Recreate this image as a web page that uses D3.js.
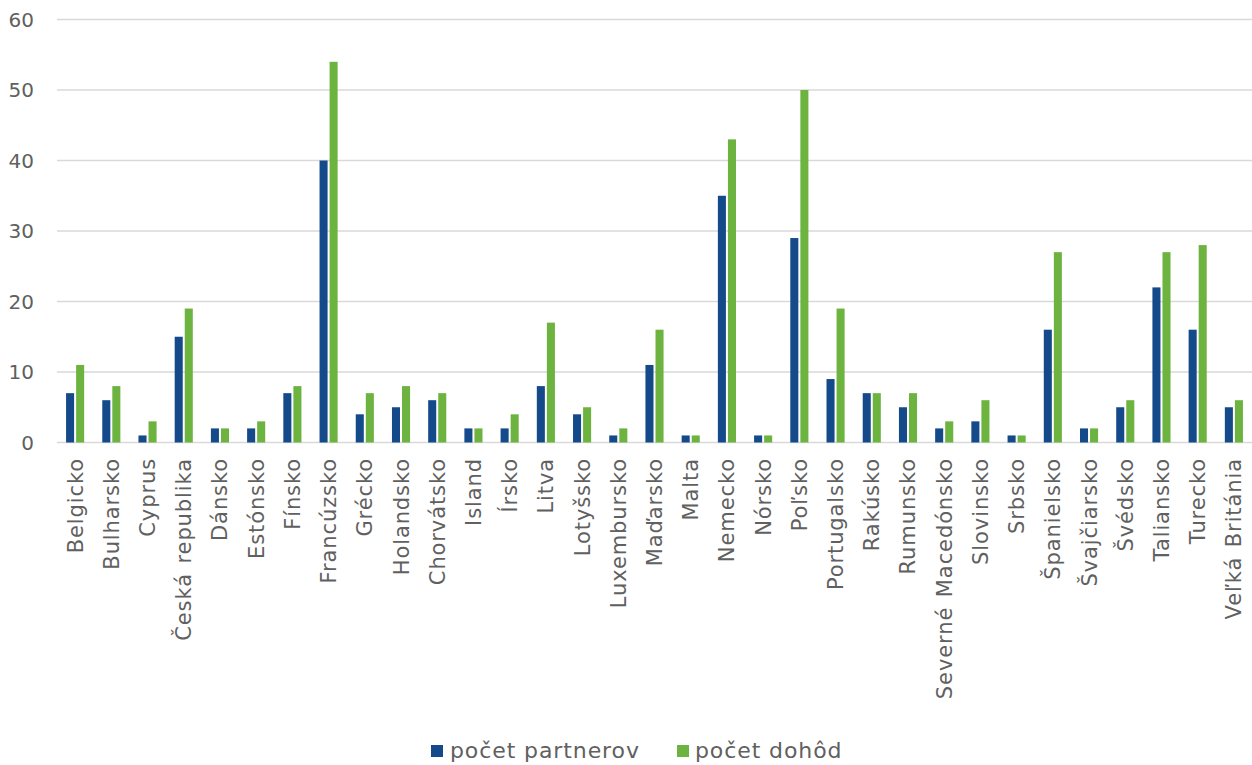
<!DOCTYPE html>
<html>
<head>
<meta charset="utf-8">
<script src="https://cdn.jsdelivr.net/npm/d3@7"></script>
<style>
  body { margin: 0; background: #fff; }
  text { font-family: "DejaVu Sans", sans-serif; fill: #606060; }
</style>
</head>
<body>
<svg id="chart" width="1252" height="765"></svg>
<script>
// countries on the x axis
var countries = ['Belgicko','Bulharsko','Cyprus','Česká republika','Dánsko','Estónsko','Fínsko',
  'Francúzsko','Grécko','Holandsko','Chorvátsko','Island','Írsko','Litva','Lotyšsko','Luxembursko',
  'Maďarsko','Malta','Nemecko','Nórsko','Poľsko','Portugalsko','Rakúsko','Rumunsko',
  'Severné Macedónsko','Slovinsko','Srbsko','Španielsko','Švajčiarsko','Švédsko','Taliansko',
  'Turecko','Veľká Británia'];

var partneri = [7,6,1,15,2,2,7,40,4,5,6,2,2,8,4,1,11,1,35,1,29,9,7,5,2,3,1,16,2,5,22,16,5];
var dohody   = [11,8,3,19,2,3,8,54,7,8,7,2,4,17,5,2,16,1,43,1,50,19,7,7,3,6,1,27,2,6,27,28,6];

var seriesNames = ['počet partnerov', 'počet dohôd'];
var seriesColors = ['#154a8a', '#6db33f'];
var yTicks = [0,10,20,30,40,50,60];

var mLeft = 57, mRight = 1252, mTop = 19.5, mBottom = 442.5;

var svg = d3.select('#chart');

var x0 = d3.scaleBand().domain(countries).range([mLeft, mRight]).paddingInner(0.5).paddingOuter(0.25);
var x1 = d3.scaleBand().domain([0,1]).range([0, x0.bandwidth()]).paddingInner(0.2);
var y = d3.scaleLinear().domain([0, 60]).range([mBottom, mTop]);

// gridlines
svg.append('g').selectAll('line')
  .data(yTicks).enter().append('line')
  .attr('x1', mLeft).attr('x2', mRight)
  .attr('y1', d => y(d)).attr('y2', d => y(d))
  .attr('stroke', '#d9d9d9').attr('stroke-width', 1.3);

// y labels
svg.append('g').selectAll('text')
  .data(yTicks).enter().append('text')
  .attr('x', 34).attr('y', d => y(d) + 7)
  .attr('text-anchor', 'end')
  .style('font-size', '20px')
  .text(d => d);

// bars
var rows = countries.map((c, i) => ({c: c, v: [partneri[i], dohody[i]]}));
var grp = svg.append('g').selectAll('g')
  .data(rows).enter().append('g')
  .attr('transform', d => 'translate(' + x0(d.c) + ',0)');

grp.selectAll('rect')
  .data(d => d.v.map((v, k) => ({k: k, v: v})))
  .enter().append('rect')
  .attr('x', d => x1(d.k))
  .attr('width', x1.bandwidth())
  .attr('y', d => y(d.v))
  .attr('height', d => y(0) - y(d.v))
  .attr('fill', d => seriesColors[d.k]);

// x labels, rotated
svg.append('g').selectAll('text')
  .data(countries).enter().append('text')
  .attr('transform', d => 'translate(' + (x0(d) + x0.bandwidth()/2 + 7.5) + ',458) rotate(-90)')
  .attr('text-anchor', 'end')
  .style('font-size', '21px')
  .style('letter-spacing', '0.9px')
  .style('word-spacing', '2px')
  .text(d => d);

// legend
var legend = [{x: 431, tx: 450}, {x: 677, tx: 695}];
legend.forEach(function(l, i){
  svg.append('rect').attr('x', l.x).attr('y', 745).attr('width', 12).attr('height', 12)
    .attr('fill', seriesColors[i]);
  svg.append('text').attr('x', l.tx).attr('y', 758)
    .style('font-size', '22px')
    .style('letter-spacing', '0.9px')
    .text(seriesNames[i]);
});
</script>
</body>
</html>
